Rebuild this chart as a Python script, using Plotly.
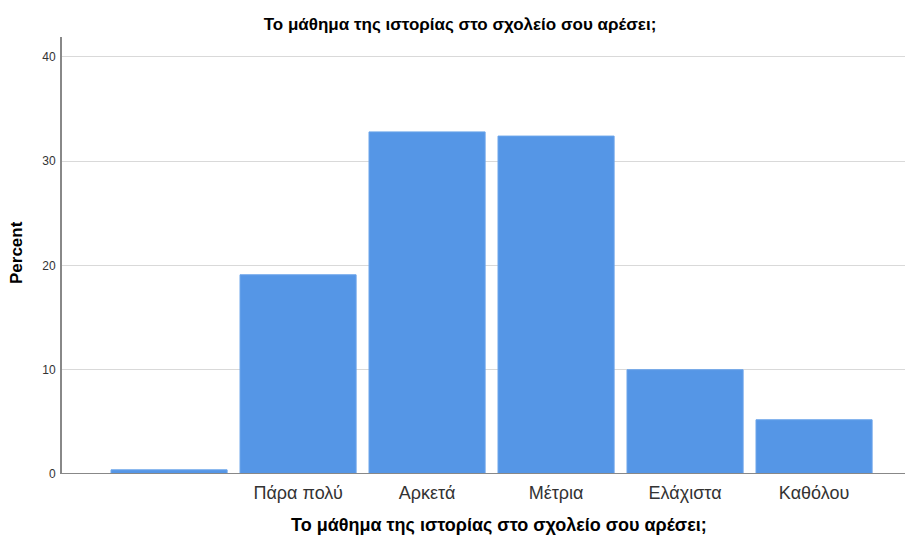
import plotly.graph_objects as go

categories = ["", "Πάρα πολύ", "Αρκετά", "Μέτρια", "Ελάχιστα", "Καθόλου"]
percent = [0.4, 19.1, 32.8, 32.4, 10.0, 5.2]
y_ticks = [0, 10, 20, 30, 40]
title_text = "Το μάθημα της ιστορίας στο σχολείο σου αρέσει;"
y_title = "Percent"

x_pos = list(range(len(categories)))

# page body has an 8px default margin, so the figure is sized to fit the window
W, H = 905, 528

fig = go.Figure()
fig.add_trace(go.Bar(
    x=x_pos, y=percent,
    marker=dict(color="#5596E6", line=dict(color="#6AA4EA", width=1)),
    width=0.9,
    hoverinfo="y",
))

font_family = "Liberation Sans, Arial, sans-serif"
fig.update_layout(
    width=W, height=H,
    margin=dict(l=54, r=8, t=29, b=62, autoexpand=False),
    paper_bgcolor="white", plot_bgcolor="white",
    showlegend=False,
    font=dict(family=font_family, color="#000000"),
    title=dict(text="<b>" + title_text + "</b>",
               xref="container", yref="container",
               x=452 / W, xanchor="center", y=1 - 16 / H, yanchor="middle",
               font=dict(size=17, family=font_family, color="#000000")),
    xaxis=dict(
        range=[-0.83, 5.705],
        tickvals=x_pos, ticktext=categories,
        showgrid=False, zeroline=False,
        showline=False, ticks="",
        automargin=False,
        ticklabelstandoff=6,
        tickfont=dict(size=18, color="#333333"),
    ),
    yaxis=dict(
        range=[0, 41.9],
        tickvals=y_ticks,
        showgrid=True, gridcolor="#D9D9D9", gridwidth=1,
        zeroline=False,
        showline=True, linecolor="#888888", linewidth=2,
        ticks="", ticklen=0,
        automargin=False,
        ticklabelstandoff=2,
        tickfont=dict(size=12, color="#333333"),
    ),
    annotations=[
        dict(text="<b>" + title_text + "</b>", xref="paper", yref="paper",
             x=(491 - 54) / 843, y=(466 - 517) / 437, xanchor="center", yanchor="middle",
             showarrow=False, font=dict(size=18, color="#000000")),
        dict(text="<b>" + y_title + "</b>", xref="paper", yref="paper",
             x=(9 - 54) / 843, y=(466 - 245) / 437, xanchor="center", yanchor="middle",
             textangle=-90, showarrow=False, font=dict(size=17, color="#000000")),
    ],
)

# baseline at zero
fig.add_shape(type="line", xref="paper", yref="y", x0=0, x1=1, y0=0, y1=0,
              line=dict(color="#888888", width=2), layer="above")

fig.write_html("out.html")
